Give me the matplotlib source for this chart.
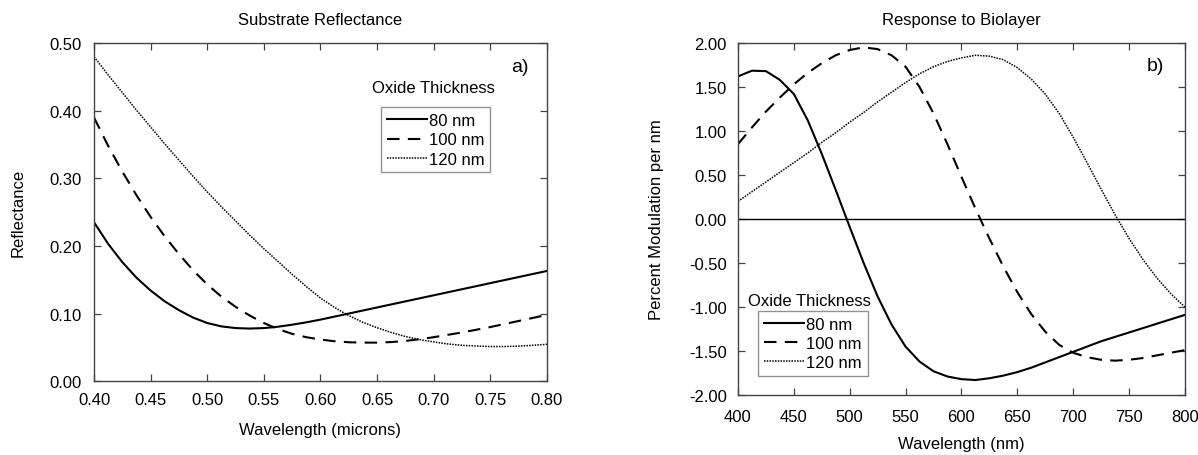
import matplotlib
matplotlib.use("Agg")
import matplotlib.pyplot as plt

plt.rcParams["font.family"] = ["Liberation Sans", "DejaVu Sans"]

# panel a) substrate reflectance, wavelength in microns
wl_um = [0.400, 0.4125, 0.425, 0.4375, 0.450, 0.4625, 0.475, 0.4875,
         0.500, 0.5125, 0.525, 0.5375, 0.550, 0.5625, 0.575, 0.5875,
         0.600, 0.6125, 0.625, 0.6375, 0.650, 0.6625, 0.675, 0.6875,
         0.700, 0.7125, 0.725, 0.7375, 0.750, 0.7625, 0.775, 0.7875, 0.800]
refl_80 = [0.235, 0.203, 0.176, 0.153, 0.134, 0.118, 0.105, 0.094,
           0.086, 0.081, 0.0785, 0.0778, 0.0785, 0.0805, 0.0835, 0.087,
           0.091, 0.0955, 0.100, 0.1045, 0.109, 0.1135, 0.118, 0.1225,
           0.127, 0.1315, 0.136, 0.1405, 0.145, 0.1495, 0.154, 0.1585, 0.163]
refl_100 = [0.390, 0.348, 0.310, 0.275, 0.243, 0.214, 0.188, 0.164,
            0.143, 0.125, 0.110, 0.097, 0.086, 0.077, 0.070, 0.065,
            0.0615, 0.059, 0.0575, 0.057, 0.057, 0.0578, 0.0595, 0.062,
            0.065, 0.0685, 0.072, 0.076, 0.080, 0.0845, 0.089, 0.0935, 0.098]
refl_120 = [0.480, 0.453, 0.427, 0.401, 0.376, 0.351, 0.327, 0.303,
            0.280, 0.258, 0.237, 0.216, 0.196, 0.177, 0.158, 0.140,
            0.123, 0.109, 0.097, 0.087, 0.079, 0.072, 0.066, 0.0615,
            0.058, 0.055, 0.053, 0.052, 0.0512, 0.0512, 0.0518, 0.053, 0.0545]

# panel b) response to biolayer, wavelength in nm
wl_nm = [400, 412.5, 425, 437.5, 450, 462.5, 475, 487.5,
         500, 512.5, 525, 537.5, 550, 562.5, 575, 587.5,
         600, 612.5, 625, 637.5, 650, 662.5, 675, 687.5,
         700, 712.5, 725, 737.5, 750, 762.5, 775, 787.5, 800]
resp_80 = [1.62, 1.685, 1.68, 1.58, 1.42, 1.12, 0.74, 0.33,
           -0.09, -0.50, -0.88, -1.20, -1.45, -1.62, -1.73, -1.79,
           -1.82, -1.83, -1.81, -1.78, -1.74, -1.69, -1.63, -1.57,
           -1.51, -1.45, -1.39, -1.34, -1.29, -1.24, -1.19, -1.14, -1.09]
resp_100 = [0.85, 1.04, 1.22, 1.38, 1.53, 1.66, 1.77, 1.86,
            1.92, 1.95, 1.93, 1.86, 1.73, 1.50, 1.20, 0.85,
            0.48, 0.12, -0.22, -0.54, -0.83, -1.08, -1.28, -1.43,
            -1.52, -1.57, -1.60, -1.61, -1.60, -1.58, -1.55, -1.52, -1.49]
resp_120 = [0.20, 0.31, 0.42, 0.53, 0.64, 0.75, 0.87, 0.98,
            1.10, 1.21, 1.33, 1.44, 1.55, 1.65, 1.73, 1.79,
            1.83, 1.86, 1.85, 1.81, 1.72, 1.59, 1.42, 1.20,
            0.93, 0.64, 0.34, 0.05, -0.22, -0.46, -0.67, -0.85, -1.00]

labels = ["80 nm", "100 nm", "120 nm"]
styles = ["-", (0, (6, 4)), (0, (1, 0.8))]
widths = [1.5, 1.5, 1.1]
fs = 12

fig = plt.figure(figsize=(11.98, 4.56), dpi=100)
ax1 = fig.add_axes([0.0785, 0.162, 0.378, 0.741])
ax2 = fig.add_axes([0.616, 0.1316, 0.373, 0.772])


def style_axes(ax):
    for s in ax.spines.values():
        s.set_color("#444444")
        s.set_linewidth(1.0)
    ax.tick_params(direction="in", top=True, right=True, length=5,
                   width=0.9, color="#444444", labelsize=fs)
    ax.tick_params(axis="x", pad=8)
    ax.tick_params(axis="y", pad=9)


def add_legend(ax, anchor):
    leg = ax.legend(loc="upper left", bbox_to_anchor=anchor,
                    borderaxespad=0, fontsize=fs, frameon=True, fancybox=False,
                    handlelength=2.4, handletextpad=0.15, labelspacing=0.25,
                    borderpad=0.35)
    leg.get_frame().set_edgecolor("#777777")
    leg.get_frame().set_linewidth(1.0)


for ys, ls, lw, lab in zip([refl_80, refl_100, refl_120], styles, widths, labels):
    ax1.plot(wl_um, ys, color="black", linestyle=ls, linewidth=lw, label=lab)
ax1.set_xlim(0.40, 0.80)
ax1.set_ylim(0.0, 0.50)
ax1.set_xticks([0.40, 0.45, 0.50, 0.55, 0.60, 0.65, 0.70, 0.75, 0.80])
ax1.set_xticklabels(["%.2f" % v for v in ax1.get_xticks()])
ax1.set_yticks([0.0, 0.1, 0.2, 0.3, 0.4, 0.5])
ax1.set_yticklabels(["%.2f" % v for v in ax1.get_yticks()])
style_axes(ax1)
ax1.set_xlabel("Wavelength (microns)", fontsize=fs)
ax1.set_ylabel("Reflectance", fontsize=fs)
ax1.xaxis.set_label_coords(0.5, -0.122)
ax1.yaxis.set_label_coords(-0.152, 0.5)
ax1.text(0.5, 1.071, "Substrate Reflectance", transform=ax1.transAxes,
         ha="center", va="center", fontsize=fs)
ax1.text(0.94, 0.93, "a)", transform=ax1.transAxes, ha="center",
         va="center", fontsize=14)
ax1.text(0.75, 0.87, "Oxide Thickness", transform=ax1.transAxes,
         ha="center", va="center", fontsize=fs)
add_legend(ax1, (0.633, 0.81))

for ys, ls, lw, lab in zip([resp_80, resp_100, resp_120], styles, widths, labels):
    ax2.plot(wl_nm, ys, color="black", linestyle=ls, linewidth=lw, label=lab)
ax2.axhline(0, color="black", linewidth=1.0)
ax2.set_xlim(400, 800)
ax2.set_ylim(-2.0, 2.0)
ax2.set_xticks(range(400, 801, 50))
ax2.set_yticks([-2.0, -1.5, -1.0, -0.5, 0.0, 0.5, 1.0, 1.5, 2.0])
ax2.set_yticklabels(["%.2f" % v for v in ax2.get_yticks()])
style_axes(ax2)
ax2.tick_params(axis="x", pad=10)
ax2.tick_params(axis="y", pad=8)
ax2.set_xlabel("Wavelength (nm)", fontsize=fs)
ax2.set_ylabel("Percent Modulation per nm", fontsize=fs)
ax2.xaxis.set_label_coords(0.5, -0.117)
ax2.yaxis.set_label_coords(-0.166, 0.5)
ax2.text(0.5, 1.068, "Response to Biolayer", transform=ax2.transAxes,
         ha="center", va="center", fontsize=fs)
ax2.text(0.935, 0.935, "b)", transform=ax2.transAxes, ha="center",
         va="center", fontsize=14)
ax2.text(0.159, 0.267, "Oxide Thickness", transform=ax2.transAxes,
         ha="center", va="center", fontsize=fs)
add_legend(ax2, (0.045, 0.239))

fig.savefig("out.png", dpi=100, facecolor="white")
